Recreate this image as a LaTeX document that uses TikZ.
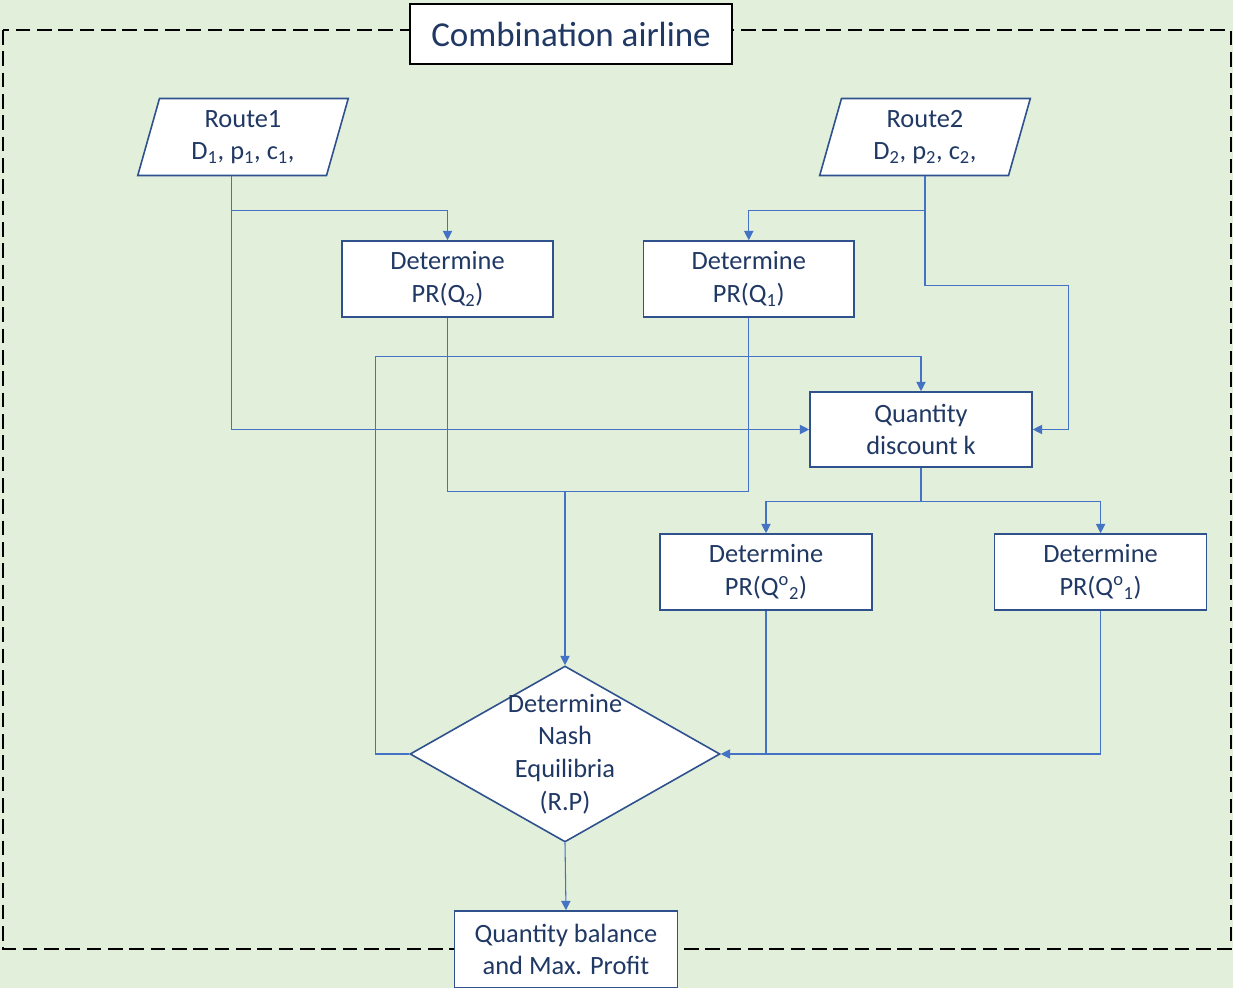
\documentclass[tikz,border=0pt]{standalone}
\usepackage{fontspec}
\setmainfont{Carlito}
\usetikzlibrary{shapes.geometric,arrows.meta,positioning,calc}
\definecolor{bggreen}{HTML}{E2EFDA}
\definecolor{boxblue}{HTML}{2F528F}
\definecolor{linkblue}{HTML}{4472C4}
\definecolor{navytext}{HTML}{203864}

\begin{document}
\begin{tikzpicture}[
		x = 0.75pt, y = -0.75pt, % one unit = one pixel of the sketch
		> = {Triangle[length=7pt,width=7pt]}, % arrow head style
		font=\fontsize{19.8}{24.4}\selectfont,
		every node/.style={text=navytext},
		procbox/.style={rectangle, draw=boxblue, fill=white, line width=1.2pt, minimum width=158pt, minimum height=57pt, align=center, inner sep=0pt},
		databox/.style={trapezium, trapezium left angle=76, trapezium right angle=104, trapezium stretches=true, draw=boxblue, fill=white, line width=1.2pt, minimum width=159pt, minimum height=57.75pt, align=center, inner sep=0pt},
		nashbox/.style={diamond, draw=boxblue, fill=white, line width=1.2pt, minimum width=232.5pt, minimum height=132pt, inner sep=0pt},
		link/.style={draw=linkblue, line width=0.8pt}
		]
		
		\useasboundingbox (0,0) rectangle (1233,988);
		\fill[bggreen] (0,0) rectangle (1233,988);
		\draw[black, line width=1.5pt, dash pattern=on 11pt off 5pt] (3,30) rectangle (1231,949);
		
		\node[draw=black, fill=white, line width=1.5pt, minimum width=241.5pt, minimum height=45pt, font=\fontsize{26.25}{30}\selectfont] (title) at (571,34) {Combination airline};
		
		\node[databox] (route1) at (243,137) {Route1\\D\textsubscript{1}, p\textsubscript{1}, c\textsubscript{1},};
		\node[databox] (route2) at (925,137) {Route2\\D\textsubscript{2}, p\textsubscript{2}, c\textsubscript{2},};
		\node[procbox] (dq2) at (447.5,279) {Determine\\PR(Q\textsubscript{2})};
		\node[procbox, right=66.75pt of dq2] (dq1) {Determine\\PR(Q\textsubscript{1})};
		\node[procbox, minimum width=166.5pt, minimum height=56.25pt] (qd) at (921,429.5) {Quantity\\discount k};
		\node[procbox, minimum width=159pt] (do2) at (766,572) {Determine\\PR(Q\textsuperscript{o}\textsubscript{2})};
		\node[procbox, minimum width=159pt, right=90.75pt of do2] (do1) {Determine\\PR(Q\textsuperscript{o}\textsubscript{1})};
		\node[nashbox] (nash) at (565,754) {};
		\node[align=center] (nashtxt) at (nash) {Determine\\Nash\\Equilibria\\(R.P)};
		\node[procbox, minimum width=167.25pt, minimum height=57.75pt] (qb) at (566,949.5) {Quantity balance\\and Max. Profit};
		
		\coordinate (r1out) at ($(route1.bottom left corner)!0.5!(route1.bottom right corner)$);
		\coordinate (r1split) at ($(r1out)+(0,34)$);
		\coordinate (r2split) at ($(route2.south)+(0,34)$);
		\coordinate (r2turn) at ($(qd.east)+(36,0)$);
		\coordinate (merge) at ($(nash.north)+(0,-174)$);
		\coordinate (fbtop) at ($(qd.north)+(0,-35)$);
		\coordinate (qdsplit) at ($(qd.south)+(0,34)$);
		
		\draw[link,->] (r1out) -- (r1split) -| (dq2.north);
		\draw[link,->] (r1split) |- (qd.west);
		\draw[link,->] (route2.south) -- (r2split) -| (dq1.north);
		\draw[link,->] (r2split) -- ++(0,75) -| (r2turn) -- (qd.east);
		
		\draw[link] (dq2.south) |- (merge) -| (dq1.south);
		\draw[link,->] (merge) -- (nash.north);
		\draw[link,->] (nash.west) -- ++(-34,0) |- (fbtop) -- (qd.north);
		
		\draw[link,->] (qd.south) -- (qdsplit) -| (do2.north);
		\draw[link,->] (qdsplit) -| (do1.north);
		\draw[link] (do2.south) -- (do2.south |- nash.east);
		\draw[link,->] (do1.south) |- (nash.east);
		\draw[link,->] (nash.south) -- (qb.north);
		
\end{tikzpicture}
\end{document}
